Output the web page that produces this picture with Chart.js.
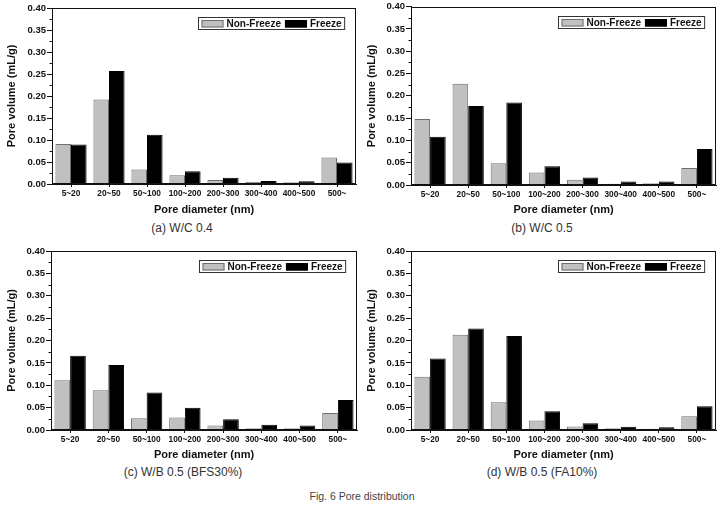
<!DOCTYPE html>
<html>
<head>
<meta charset="utf-8">
<script src="https://cdn.jsdelivr.net/npm/chart.js@4/dist/chart.umd.min.js"></script>
<style>
  html,body{margin:0;padding:0;background:#fff;}
  #wrap{position:relative;width:723px;height:505px;overflow:hidden;}
  .box{position:absolute;}
  .cap{position:absolute;font-family:Arial,"Liberation Sans",sans-serif;font-size:12px;color:#333;white-space:nowrap;transform:translateX(-50%);}
  #fig{position:absolute;font-family:Arial,"Liberation Sans",sans-serif;font-size:10.5px;color:#444;white-space:nowrap;transform:translateX(-50%);}
</style>
</head>
<body>
<div id="wrap">
  <div class="box" style="left:0;top:0;width:360px;height:220px;"><canvas id="ca"></canvas></div>
  <div class="box" style="left:360px;top:0;width:363px;height:220px;"><canvas id="cb"></canvas></div>
  <div class="box" style="left:0;top:240px;width:360px;height:225px;"><canvas id="cc"></canvas></div>
  <div class="box" style="left:360px;top:240px;width:363px;height:225px;"><canvas id="cd"></canvas></div>
  <div class="cap" style="left:182px;top:221px;">(a) W/C 0.4</div>
  <div class="cap" style="left:542px;top:221px;">(b) W/C 0.5</div>
  <div class="cap" style="left:183px;top:465px;">(c) W/B 0.5 (BFS30%)</div>
  <div class="cap" style="left:542px;top:465px;">(d) W/B 0.5 (FA10%)</div>
  <div id="fig" style="left:362px;top:490px;">Fig. 6 Pore distribution</div>
</div>
<script>
// ---- data ----
const categories = ['5~20','20~50','50~100','100~200','200~300','300~400','400~500','500~'];
const seriesNames = ['Non-Freeze','Freeze'];
const yTickValues = [0,0.05,0.10,0.15,0.20,0.25,0.30,0.35,0.40];
const xTitle = 'Pore diameter (nm)';
const yTitle = 'Pore volume (mL/g)';

const nonFreezeA = [0.091,0.192,0.033,0.020,0.009,0.005,0.004,0.060];
const freezeA    = [0.090,0.257,0.112,0.029,0.014,0.007,0.006,0.049];

const nonFreezeB = [0.148,0.227,0.049,0.028,0.012,0.003,0.004,0.038];
const freezeB    = [0.108,0.177,0.185,0.042,0.017,0.008,0.008,0.081];

const nonFreezeC = [0.111,0.089,0.026,0.028,0.010,0.004,0.004,0.038];
const freezeC    = [0.166,0.145,0.084,0.050,0.024,0.012,0.010,0.067];

const nonFreezeD = [0.119,0.213,0.062,0.021,0.008,0.004,0.003,0.031];
const freezeD    = [0.160,0.227,0.210,0.042,0.015,0.007,0.006,0.053];

// ---- rendering ----
const FONT = 'Arial, "Liberation Sans", sans-serif';

const framePlugin = {
  id: 'frameAndLegend',
  afterDraw(chart) {
    const ctx = chart.ctx;
    const a = chart.chartArea;
    const ys = chart.scales.y;
    ctx.save();
    ctx.strokeStyle = '#111';
    ctx.lineWidth = 1;
    // frame
    const L = Math.round(a.left) + 0.5, T = Math.round(a.top) + 0.5;
    const R = Math.round(a.right) - 0.5, B = Math.round(a.bottom) - 0.5;
    ctx.strokeRect(L, T, R - L, B - T);
    // minor y ticks
    for (let i = 0; i < yTickValues.length - 1; i++) {
      const v = (yTickValues[i] + yTickValues[i + 1]) / 2;
      const py = Math.round(ys.getPixelForValue(v)) + 0.5;
      ctx.beginPath();
      ctx.moveTo(L - 3, py);
      ctx.lineTo(L, py);
      ctx.stroke();
    }
    // legend box
    ctx.font = 'bold 10px ' + FONT;
    const sw = 22, sh = 7, gap = 3, pad = 3;
    const ds = chart.data.datasets;
    let w = pad;
    ds.forEach((d, i) => { w += sw + gap + ctx.measureText(d.label).width + (i < ds.length - 1 ? 4 : pad); });
    const h = 12;
    const bx = Math.round(a.right - 12 - w) + 0.5;
    const by = Math.round(a.top + 9) + 0.5;
    ctx.fillStyle = '#fff';
    ctx.fillRect(bx, by, w, h);
    ctx.strokeStyle = '#333';
    ctx.strokeRect(bx, by, w, h);
    let x = bx + pad;
    ds.forEach((d, i) => {
      ctx.fillStyle = d.backgroundColor;
      ctx.fillRect(x, by + 2.5, sw, sh + 0.5);
      ctx.strokeStyle = d.borderColor;
      ctx.strokeRect(x + 0.5, by + 3, sw - 1, sh - 0.5);
      x += sw + gap;
      ctx.fillStyle = '#111';
      ctx.textBaseline = 'middle';
      ctx.textAlign = 'left';
      ctx.fillText(d.label, x, by + h / 2 + 0.5);
      x += ctx.measureText(d.label).width + 4;
    });
    ctx.restore();
  }
};

function makeChart(id, nf, fr, geo) {
  const el = document.getElementById(id);
  const W = el.parentNode.clientWidth, H = el.parentNode.clientHeight;
  return new Chart(el, {
    type: 'bar',
    data: {
      labels: categories,
      datasets: [
        { label: seriesNames[0], data: nf, backgroundColor: '#c0c0c0', borderColor: '#6e6e6e', borderWidth: 1,
          barPercentage: 1.0, categoryPercentage: 0.82 },
        { label: seriesNames[1], data: fr, backgroundColor: '#000000', borderColor: '#000000', borderWidth: 1,
          barPercentage: 1.0, categoryPercentage: 0.82 }
      ]
    },
    options: {
      responsive: true,
      maintainAspectRatio: false,
      animation: false,
      devicePixelRatio: 1,
      layout: { padding: { left: 0, top: geo.top, right: W - geo.right, bottom: 0 } },
      plugins: { legend: { display: false }, tooltip: { enabled: false } },
      scales: {
        x: {
          offset: true,
          grid: { display: true, offset: false, drawOnChartArea: false, drawTicks: true, tickLength: 3, color: '#111' },
          border: { display: true, color: '#111' },
          ticks: { font: { family: FONT, size: 8.3, weight: 'bold' }, color: '#111', padding: 2, maxRotation: 0, autoSkip: false },
          title: { display: true, text: xTitle, font: { family: FONT, size: 11, weight: 'bold' }, color: '#111', padding: { top: 0, bottom: 3 } },
          afterFit(s) { s.height = H - geo.bottom; }
        },
        y: {
          min: 0, max: 0.4,
          afterBuildTicks(s) { s.ticks = yTickValues.map(v => ({ value: v })); },
          grid: { display: true, drawOnChartArea: false, drawTicks: true, tickLength: 5, color: '#111' },
          border: { display: true, color: '#111' },
          ticks: { font: { family: FONT, size: 9.5, weight: 'bold' }, color: '#111', padding: 1,
                   callback: v => Number(v).toFixed(2) },
          title: { display: true, text: yTitle, font: { family: FONT, size: 11, weight: 'bold' }, color: '#111', padding: { top: 5, bottom: 0 } },
          afterFit(s) { s.width = geo.left; }
        }
      }
    },
    plugins: [framePlugin]
  });
}

makeChart('ca', nonFreezeA, freezeA, { left: 52, top: 8, right: 356, bottom: 184 });
makeChart('cb', nonFreezeB, freezeB, { left: 51, top: 6, right: 356, bottom: 185 });
makeChart('cc', nonFreezeC, freezeC, { left: 51, top: 11, right: 357, bottom: 190 });
makeChart('cd', nonFreezeD, freezeD, { left: 51, top: 11, right: 356, bottom: 190 });
</script>
</body>
</html>
